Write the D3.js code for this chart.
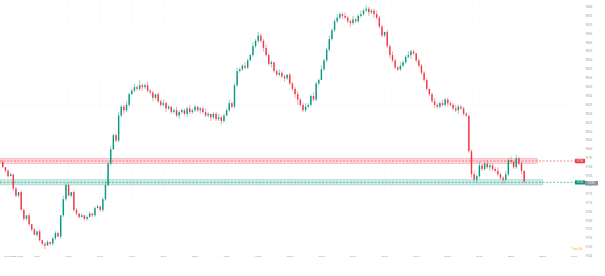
<!DOCTYPE html>
<html lang="en">
<head>
<meta charset="UTF-8">
<title>Candles</title>
<script src="https://d3js.org/d3.v7.min.js"></script>
<style>
  html, body { margin: 0; padding: 0; background: #fff; }
  svg { display: block; font-family: "Liberation Sans", Arial, sans-serif; }
</style>
</head>
<body>
<script>
// 5-minute candles, 17.10.2023 from 05:55
const firstOpen = 97.93;
const closes = [
  97.90, 97.88, 97.85, 97.86, 97.78, 97.74, 97.76, 97.66, 97.61, 97.63,
  97.58, 97.55, 97.52, 97.54, 97.49, 97.47, 97.46, 97.48, 97.47, 97.50,
  97.53, 97.51, 97.63, 97.72, 97.80, 97.74, 97.76, 97.66, 97.64, 97.62,
  97.63, 97.61, 97.62, 97.64, 97.63, 97.67, 97.68, 97.66, 97.72, 97.80,
  97.92, 98.00, 98.08, 98.05, 98.19, 98.24, 98.22, 98.25, 98.31, 98.33,
  98.35, 98.34, 98.36, 98.35, 98.36, 98.33, 98.32, 98.29, 98.31, 98.27,
  98.25, 98.26, 98.23, 98.24, 98.21, 98.22, 98.19, 98.21, 98.22, 98.20,
  98.23, 98.21, 98.22, 98.24, 98.22, 98.23, 98.21, 98.19, 98.20, 98.18,
  98.20, 98.17, 98.18, 98.16, 98.19, 98.22, 98.26, 98.24, 98.36, 98.44,
  98.45, 98.47, 98.46, 98.50, 98.53, 98.58, 98.61, 98.64, 98.61, 98.57,
  98.53, 98.48, 98.49, 98.44, 98.42, 98.43, 98.41, 98.40, 98.42, 98.37,
  98.34, 98.31, 98.28, 98.25, 98.22, 98.24, 98.25, 98.30, 98.28, 98.37,
  98.39, 98.45, 98.50, 98.56, 98.62, 98.67, 98.72, 98.74, 98.76, 98.75,
  98.74, 98.72, 98.71, 98.73, 98.72, 98.75, 98.76, 98.78, 98.79, 98.77,
  98.78, 98.76, 98.74, 98.69, 98.64, 98.66, 98.58, 98.53, 98.50, 98.46,
  98.45, 98.47, 98.49, 98.52, 98.53, 98.55, 98.54, 98.50, 98.47, 98.43,
  98.39, 98.34, 98.31, 98.27, 98.25, 98.24, 98.26, 98.25, 98.28, 98.26,
  98.25, 98.23, 98.22, 98.24, 98.23, 98.20, 98.19, 97.99, 97.86, 97.83,
  97.85, 97.91, 97.89, 97.92, 97.90, 97.91, 97.89, 97.88, 97.86, 97.84,
  97.83, 97.86, 97.94, 97.93, 97.90, 97.95, 97.92, 97.88, 97.82
];
// wick lengths above / below the body, in hundredths
const wickUp = [
  1,0,1,1,0,1,0,1,1,0, 1,0,1,0,1,0,1,1,0,1, 1,1,0,2,1,1,0,1,1,0, 1,0,1,1,0,1,1,0,1,2,
  1,2,1,1,2,1,1,2,1,1, 2,1,3,1,1,2,1,1,0,1, 1,2,1,1,0,1,2,1,1,1, 1,2,1,1,0,1,1,2,1,0,
  1,1,2,1,1,1,2,1,1,2, 1,1,2,1,1,2,1,2,1,1, 2,1,1,0,1,2,1,1,0,1, 1,1,2,1,1,2,1,1,2,1,
  1,2,1,1,2,1,1,2,1,1, 2,1,1,2,1,1,2,1,2,1, 1,1,2,1,1,0,1,1,2,1, 1,2,1,1,2,1,1,0,1,1,
  1,1,0,1,2,1,1,2,1,1, 1,1,2,1,1,1,1,0,1,2, 1,2,1,1,2,1,1,1,2,1, 1,2,1,2,1,2,1,1,0
];
const wickDn = [
  0,1,1,0,1,1,1,0,1,1, 1,1,0,1,1,1,2,0,1,1, 1,0,1,1,1,0,1,1,1,1, 0,1,1,0,1,1,0,1,1,1,
  1,1,0,1,1,1,2,1,1,0, 1,1,1,2,1,1,1,2,1,1, 1,1,2,1,1,1,1,2,1,1, 2,1,1,1,1,2,1,1,1,2,
  1,1,1,2,1,0,1,1,1,1, 1,1,1,1,0,1,1,1,1,2, 1,1,2,1,1,1,1,2,1,1, 1,2,3,1,1,1,1,1,1,1,
  1,0,1,1,1,1,1,1,1,2, 1,1,2,1,1,1,1,1,1,2, 1,2,1,1,1,1,1,2,1,1, 1,1,1,1,1,2,1,1,1,1,
  1,1,1,1,2,1,1,1,1,2, 1,1,1,2,1,1,1,1,2,1, 2,1,1,1,1,2,1,1,1,1, 2,1,1,1,1,1,1,2,1
];

const priceTicks = d3.range(0, 29).map(k => +(98.80 - k * 0.05).toFixed(2));
const resistance = { lo: 97.92, hi: 97.95, line: 97.935, label: "97.94" };
const support = { lo: 97.80, hi: 97.83, line: 97.815, label: "97.82" };
const lastLabel = "97.82";
const countdown = "7 min 40s";

const W = 605, H = 276, axisX = 575;
const start = new Date(2023, 9, 17, 5, 55);
const step = 5 * 60 * 1000;

const x = d3.scaleTime()
  .domain([new Date(2023, 9, 17, 7, 0), new Date(2023, 9, 18, 0, 0)])
  .range([37, 37 + 17 * 31.6]);
const y = d3.scaleLinear().domain([97.40, 98.80]).range([256.2, 7]);

const candles = closes.map((c, i) => {
  const o = i === 0 ? firstOpen : closes[i - 1];
  return {
    t: new Date(start.getTime() + i * step),
    o, c,
    h: Math.max(o, c) + wickUp[i] / 100,
    l: Math.min(o, c) - wickDn[i] / 100
  };
});

const svg = d3.select("body").append("svg").attr("width", W).attr("height", H);

// grid (very faint)
const hours = d3.timeHour.range(new Date(2023, 9, 17, 7, 0), new Date(2023, 9, 18, 0, 1));
svg.append("g").selectAll("line").data(hours).join("line")
  .attr("x1", d => x(d)).attr("x2", d => x(d))
  .attr("y1", 0).attr("y2", 250)
  .attr("stroke", "#f8f8f8").attr("stroke-width", 0.5);
svg.append("g").selectAll("line").data(priceTicks).join("line")
  .attr("x1", 0).attr("x2", axisX)
  .attr("y1", d => y(d)).attr("y2", d => y(d))
  .attr("stroke", "#f8f8f8").attr("stroke-width", 0.5);

// zones
function zone(z, color, endTime) {
  svg.append("rect")
    .attr("x", 0).attr("width", x(endTime))
    .attr("y", y(z.hi)).attr("height", y(z.lo) - y(z.hi))
    .attr("fill", color).attr("fill-opacity", 0.2)
    .attr("stroke", color).attr("stroke-opacity", 0.4).attr("stroke-width", 0.5);
  svg.append("line")
    .attr("x1", 0).attr("x2", axisX)
    .attr("y1", y(z.line)).attr("y2", y(z.line))
    .attr("stroke", color).attr("stroke-width", 0.6)
    .attr("stroke-dasharray", "2,1.5");
}
zone(resistance, "#f23645", new Date(2023, 9, 17, 22, 50));
zone(support, "#089981", new Date(2023, 9, 17, 23, 0));

// candles
const bw = 1.4;
const g = svg.append("g");
g.selectAll("line").data(candles).join("line")
  .attr("x1", d => x(d.t)).attr("x2", d => x(d.t))
  .attr("y1", d => y(d.h)).attr("y2", d => y(d.l))
  .attr("stroke", d => d.c >= d.o ? "#089981" : "#f23645")
  .attr("stroke-width", 0.45);
g.selectAll("rect").data(candles).join("rect")
  .attr("x", d => x(d.t) - bw / 2).attr("width", bw)
  .attr("y", d => y(Math.max(d.o, d.c)))
  .attr("height", d => Math.max(0.6, Math.abs(y(d.o) - y(d.c))))
  .attr("fill", d => d.c >= d.o ? "#089981" : "#f23645");

// right axis
svg.append("g").selectAll("text").data(priceTicks).join("text")
  .attr("x", 589).attr("y", d => y(d) + 0.9)
  .attr("text-anchor", "middle")
  .attr("font-size", 2.6).attr("fill", "#8a8a8a")
  .text(d => d.toFixed(2));

function priceBox(v, label, color, bx, w) {
  svg.append("rect").attr("x", bx).attr("y", y(v) - 2.2)
    .attr("width", w).attr("height", 4.4).attr("rx", 0.6).attr("fill", color);
  svg.append("text").attr("x", bx + w / 2).attr("y", y(v) + 0.9)
    .attr("text-anchor", "middle").attr("font-size", 2.6).attr("fill", "#fff")
    .text(label);
}
priceBox(resistance.line, resistance.label, "#f23645", 575, 10);
priceBox(support.line, support.label, "#089981", 575, 10);
priceBox(closes[closes.length - 1] - 0.01, lastLabel, "#8f9399", 585, 13);

svg.append("text").attr("x", 577).attr("y", 249.5)
  .attr("text-anchor", "middle").attr("font-size", 2.6).attr("fill", "#f7a21b")
  .text(countdown);

// time axis
const fmt = d3.timeFormat("%H:%M");
svg.append("g").selectAll("text").data(hours).join("text")
  .attr("x", d => x(d)).attr("y", 256.5)
  .attr("text-anchor", "middle")
  .attr("font-size", 2.4).attr("fill", "#8a8a8a")
  .text(d => fmt(d));
svg.append("text").attr("x", x(new Date(2023, 9, 17, 6, 15))).attr("y", 256.5)
  .attr("text-anchor", "middle").attr("font-size", 2.4).attr("fill", "#8a8a8a")
  .text("17.10.2023  06:15");
</script>
</body>
</html>
